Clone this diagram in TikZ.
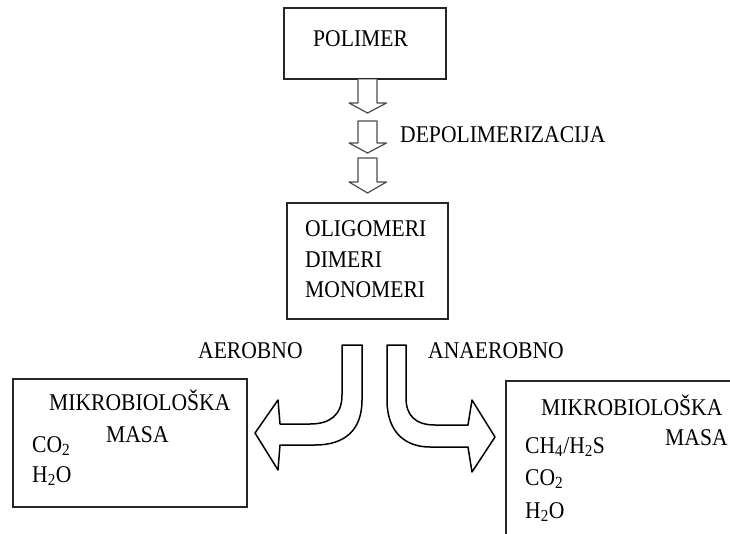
\documentclass[tikz,border=0pt]{standalone}
\usepackage{fontspec}
\setmainfont[FakeStretch=0.9]{Liberation Serif}
\newcommand{\bigsub}[1]{\raisebox{-0.35ex}{\fontsize{17}{17}\selectfont #1}}
\begin{document}
\begin{tikzpicture}[x=1pt,y=-1pt,
  box/.style={draw=black!85,line width=1.3pt,fill=none,inner sep=0pt},
  txt/.style={anchor=base west,inner sep=0pt,font=\fontsize{24}{28}\selectfont},
  barrow/.style={draw=black!70,line width=1.2pt,fill=white,line join=round},
  carrow/.style={draw=black,line width=1.5pt,fill=white,line join=round}]
\useasboundingbox (0,0) rectangle (730,534);
% boxes
\node[box,minimum width=162pt,minimum height=71pt] (poli) at (365,43.5) {};
\node[box,minimum width=161pt,minimum height=116pt] (olig) at (367.5,261) {};
\node[box,minimum width=234pt,minimum height=128pt] (aer) at (130,443) {};
\coordinate (rbTR) at (731,381);
\coordinate (rbTL) at (506,381);
\coordinate (rbBL) at (506,535);
\draw[draw=black!85,line width=1.3pt] (rbTR) -- (rbTL) -- (rbBL);
% texts
\node[txt] (tpoli) at (313,46.5) {POLIMER};
\node[txt] (tdepo) at (400,143) {DEPOLIMERIZACIJA};
\node[txt] (tolig) at (305,237) {OLIGOMERI};
\node[txt] (tdim) at (305,268) {DIMERI};
\node[txt] (tmono) at (305,298) {MONOMERI};
\node[txt] (taer) at (198,358) {AEROBNO};
\node[txt] (tanaer) at (428,358) {ANAEROBNO};
\node[txt] (lmik) at (49,410) {MIKROBIOLOŠKA};
\node[txt] (lmasa) at (106,442) {MASA};
\node[txt] (lco) at (32,452) {CO\bigsub{2}};
\node[txt] (lho) at (32,482) {H\textsubscript{2}O};
\node[txt] (rmik) at (541,415) {MIKROBIOLOŠKA};
\node[txt] (rmasa) at (665,445) {MASA};
\node[txt] (rch) at (525,453) {CH\textsubscript{4}/H\textsubscript{2}S};
\node[txt] (rco) at (525,485) {CO\bigsub{2}};
\node[txt] (rho) at (525,518) {H\textsubscript{2}O};
% down block arrows
\draw[barrow] (358,79.5) -- (358,103) -- (349,103) -- (367.5,113) -- (386.5,103) -- (377,103) -- (377,79.5);
\draw[barrow] (358,121) -- (358,143) -- (349,143) -- (367.5,153) -- (386.5,143) -- (377,143) -- (377,121) -- cycle;
\draw[barrow] (358,158) -- (358,182) -- (349,182) -- (367.5,193) -- (386.5,182) -- (377,182) -- (377,158) -- cycle;
% curved block arrow left (aerobno)
\draw[carrow] (342,345) -- (362,345) -- (362,400)
  .. controls (362,430) and (345,445) .. (315,445) -- (280,445)
  -- (278,470) -- (255,433) -- (278,400) -- (280,424) -- (310,424)
  .. controls (330,424) and (342,415) .. (342,395) -- cycle;
% curved block arrow right (anaerobno)
\draw[carrow] (406,345) -- (387,345) -- (387,400)
  .. controls (387,432) and (405,447) .. (430,447) -- (468,447)
  -- (472,472) -- (495,437) -- (472,400) -- (468,425) -- (435,425)
  .. controls (415,425) and (406,415) .. (406,398) -- cycle;
\end{tikzpicture}
\end{document}
